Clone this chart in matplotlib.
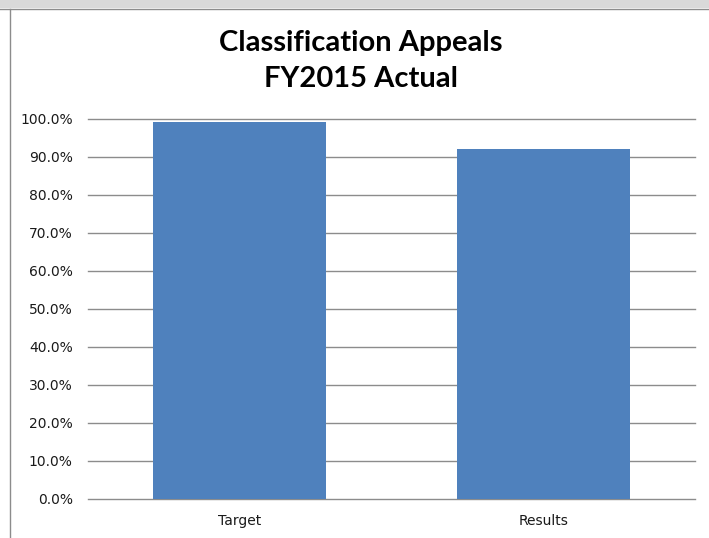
import matplotlib.pyplot as plt
from matplotlib.patches import Rectangle
from matplotlib.lines import Line2D
import numpy as np

categories = ['Target', 'Results']
values = [99.1, 92.1]
yticks = [0, 10, 20, 30, 40, 50, 60, 70, 80, 90, 100]

W, H = 709, 538
fig = plt.figure(figsize=(W / 100, H / 100), dpi=100)

# window frame bits around the chart
fig.patches.append(Rectangle((0, 1 - 8 / H), 1, 8 / H, transform=fig.transFigure,
                             facecolor='#d9d9d9', edgecolor='none'))
fig.lines.append(Line2D([0, 1], [1 - 8.5 / H, 1 - 8.5 / H], transform=fig.transFigure,
                        color='#8c8c8c', lw=1))
fig.lines.append(Line2D([10 / W, 10 / W], [0, 1 - 9 / H], transform=fig.transFigure,
                        color='#8c8c8c', lw=1))

ax = fig.add_axes([88 / W, 1 - 499 / H, 607 / W, 380 / H])
x = np.arange(len(categories))
ax.bar(x, values, width=0.57, color='#4f81bd', zorder=3)
ax.set_xlim(-0.5, 1.5)
ax.set_ylim(0, 100)
ax.set_yticks(yticks)
ax.set_yticklabels([f'{v:.1f}%' for v in yticks], fontsize=10, color='#1a1a1a')
ax.set_xticks(x)
ax.set_xticklabels(categories, fontsize=10, color='#1a1a1a')
ax.grid(axis='y', color='#8c8c8c', lw=1, zorder=0)
for gl in ax.get_ygridlines():
    gl.set_clip_on(False)
ax.tick_params(axis='y', length=0, pad=11)
ax.tick_params(axis='x', length=0, pad=11)
for s in ax.spines.values():
    s.set_visible(False)

fig.text(361 / W, 1 - 43 / H, 'Classification Appeals', ha='center', va='center',
         fontsize=21, fontweight='bold', family='Lato')
fig.text(361 / W, 1 - 79 / H, 'FY2015 Actual', ha='center', va='center',
         fontsize=21, fontweight='bold', family='Lato')

fig.savefig('out.png', dpi=100)
